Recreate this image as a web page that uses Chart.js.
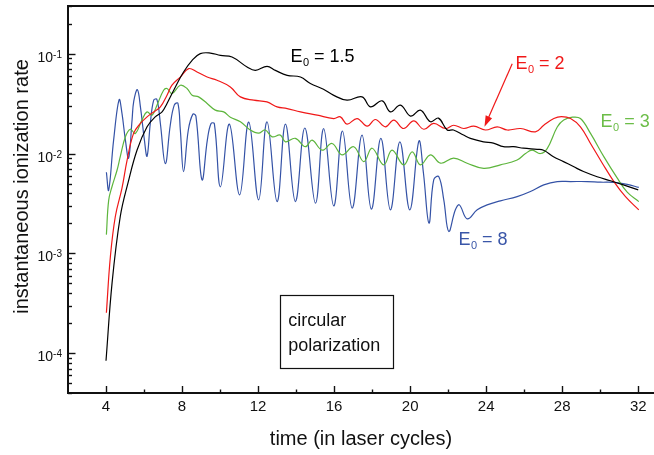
<!DOCTYPE html>
<html>
<head>
<meta charset="utf-8">
<script src="https://cdn.jsdelivr.net/npm/chart.js@4"></script>
<style>
html,body{margin:0;padding:0;background:#fff;}
#wrap{width:654px;height:455px;position:relative;}
</style>
</head>
<body>
<div id="wrap"><canvas id="chartRate"></canvas></div>
<script>
// time in laser cycles / instantaneous ionization rate

const timeE15 = [4.00,4.32,4.75,5.17,5.63,6.16,6.59,6.95,7.21,7.65,8.08,8.53,8.96,9.49,10.02,10.63,11.42,11.86,12.47,12.91,13.53,14.23,14.75,15.44,15.96,16.68,17.47,17.91,18.53,18.96,19.49,20.02,20.54,21.07,21.49,21.95,22.28,22.81,23.17,23.86,24.38,24.91,25.44,25.96,26.68,27.02,27.54,28.07,28.59,29.12,29.84,30.54,31.22,32.0];
const rateE15 = [8.4e-5,5.1e-4,2.34e-3,5.2e-3,0.0108,0.0185,0.0233,0.0261,0.0317,0.0464,0.0655,0.0857,0.100,0.1014,0.096,0.0925,0.0735,0.068,0.0747,0.068,0.0607,0.0583,0.0502,0.044,0.0384,0.0342,0.0369,0.0293,0.0337,0.0261,0.0305,0.0237,0.0272,0.0208,0.0226,0.0172,0.0172,0.0153,0.0142,0.0131,0.0127,0.0117,0.0117,0.0113,0.0110,0.0108,0.0093,0.0083,0.0074,0.0066,0.00586,0.00534,0.00485,0.00432];

const timeE2 = [4.02,4.23,4.49,4.84,5.11,5.45,5.81,6.16,6.51,6.86,7.21,7.47,7.91,8.35,8.79,9.32,9.84,10.54,11.07,11.77,12.47,13.0,13.53,14.23,15.11,15.98,16.33,16.68,17.21,17.74,18.17,18.7,19.14,19.66,20.19,20.72,21.24,21.86,22.29,22.82,23.35,23.96,24.58,25.11,25.81,26.59,27.03,27.56,27.96,28.44,28.96,29.49,30.11,30.72,31.33,32.03];
const rateE2 = [2.54e-4,9.3e-4,2.34e-3,4.5e-3,8.6e-3,0.0159,0.020,0.0233,0.0261,0.0293,0.0384,0.0483,0.0583,0.0708,0.0655,0.0583,0.0542,0.0464,0.0369,0.0342,0.0329,0.0293,0.0282,0.0261,0.0242,0.0224,0.0233,0.0197,0.0224,0.0188,0.0219,0.0185,0.0216,0.0178,0.0212,0.0175,0.020,0.0178,0.0192,0.0178,0.0188,0.0172,0.0185,0.0172,0.0178,0.0165,0.0192,0.0224,0.0234,0.0224,0.0185,0.0126,0.0080,0.00524,0.0037,0.00273];

const timeE3 = [4.02,4.14,4.32,4.58,4.75,5.02,5.28,5.54,5.89,6.16,6.42,6.68,7.03,7.21,7.47,7.91,8.26,8.53,8.87,9.32,9.75,10.19,10.54,11.07,11.59,12.02,12.38,12.74,13.17,13.44,13.96,14.49,14.84,15.37,15.89,16.42,17.03,17.56,18.0,18.61,19.05,19.66,20.11,20.54,21.07,21.6,22.29,23.0,23.87,24.75,25.63,26.07,26.42,26.86,27.21,27.74,28.08,28.54,28.96,29.49,30.19,30.89,31.42,32.03];
const rateE3 = [1.54e-3,3.4e-3,4.7e-3,6.8e-3,9.3e-3,0.0147,0.0175,0.0159,0.0216,0.0261,0.0242,0.0305,0.043,0.0448,0.0399,0.0483,0.0448,0.0384,0.0369,0.0317,0.0272,0.0261,0.0231,0.0208,0.0172,0.016,0.0172,0.0147,0.0153,0.0131,0.0142,0.0117,0.0136,0.0108,0.0126,0.0097,0.0117,0.0083,0.0113,0.0077,0.0108,0.0077,0.0104,0.0077,0.0097,0.0080,0.0090,0.0080,0.0071,0.0077,0.0086,0.0100,0.0108,0.0100,0.0112,0.0184,0.0216,0.0231,0.0224,0.0159,0.0093,0.0057,0.0041,0.0033];

const timeE8 = [4.02,4.14,4.40,4.69,4.84,5.02,5.19,5.37,5.46,5.65,5.81,6.02,6.16,6.33,6.51,6.68,6.86,7.12,7.38,7.59,7.78,7.91,8.08,8.33,8.57,8.73,9.05,9.33,9.52,9.70,10.02,10.49,11.03,11.51,12.03,12.47,13.0,13.44,13.96,14.46,15.02,15.45,15.98,16.44,16.95,17.47,17.96,18.46,18.96,19.46,19.98,20.46,20.70,20.99,21.24,21.51,21.77,22.03,22.38,22.59,23.0,23.53,24.05,24.75,25.63,26.33,27.03,27.74,28.44,29.32,30.02,30.72,31.42,32.03];
const rateE8 = [6.5e-3,4.3e-3,0.0136,0.0346,0.0252,0.0136,0.0090,0.0216,0.0334,0.0436,0.0293,0.0136,0.0094,0.020,0.0342,0.0347,0.020,0.0079,0.0192,0.0305,0.0319,0.0172,0.0066,0.0172,0.0248,0.0237,0.00545,0.0136,0.0199,0.0199,0.00464,0.0197,0.00386,0.0206,0.00344,0.0208,0.0033,0.0197,0.0033,0.0180,0.00318,0.0178,0.00299,0.0168,0.00284,0.0153,0.00277,0.0142,0.00273,0.0131,0.00273,0.0133,0.00638,0.00201,0.00545,0.00586,0.00344,0.00166,0.00273,0.00306,0.00222,0.00273,0.00306,0.00336,0.0037,0.00416,0.00485,0.00524,0.00524,0.00524,0.00516,0.00514,0.00491,0.00458];

const xTicks = [4,6,8,10,12,14,16,18,20,22,24,26,28,30,32];
const yDecades = [-5,-4,-3,-2,-1];

// labels on the plot: [text value, x, y, colour]
const curveLabels = [
  ["1.5", 13.70, 0.0819, "#000000"],
  ["2",   25.54, 0.0697, "#f01818"],
  ["3",   30.02, 0.0184, "#6cbd48"],
  ["8",   22.54, 0.00122, "#3a56a8"]
];

const FONT = '"Liberation Sans", Arial, sans-serif';
const INK = "#111";

function series(label, xs, ys, color){
  return {
    label: label,
    data: xs.map((t,i)=>({x:t, y:ys[i]})),
    borderColor: color,
    borderWidth: 1.2,
    pointRadius: 0,
    fill: false,
    tension: 0.4
  };
}

let yTickValues = [];
yDecades.forEach(e=>{
  for(let m=1;m<10;m++){
    let v = m*Math.pow(10,e);
    if(v>=4e-5*0.999 && v<=0.3*1.001) yTickValues.push(v);
  }
});

/* axes frame, inward ticks, y labels */

const framePlugin = {
  id: "frame",
  afterDraw(chart){
    const {ctx, chartArea:a, scales:{x, y}} = chart;
    ctx.save();
    ctx.strokeStyle = INK;
    ctx.lineWidth = 2;
    ctx.beginPath();
    ctx.moveTo(a.left-1, a.top);
    ctx.lineTo(a.right, a.top);
    ctx.stroke();

    ctx.lineWidth = 1.4;
    x.ticks.forEach(t=>{
      let px = Math.round(x.getPixelForValue(t.value))+0.5;
      let len = t.value%4===0 ? 7 : 3.5;
      ctx.beginPath();
      ctx.moveTo(px, a.bottom);
      ctx.lineTo(px, a.bottom-len);
      ctx.stroke();
    });
    y.ticks.forEach(t=>{
      let py = Math.round(y.getPixelForValue(t.value))+0.5;
      let e = Math.log10(t.value);
      let major = Math.abs(e-Math.round(e))<1e-6;
      let len = major ? 7.5 : 4;
      ctx.beginPath();
      ctx.moveTo(a.left, py);
      ctx.lineTo(a.left+len, py);
      ctx.stroke();
      if(major){
        let sup = String(Math.round(e));
        ctx.fillStyle = INK;
        ctx.textBaseline = "alphabetic";
        ctx.textAlign = "left";
        ctx.font = "10px "+FONT;
        let sw = ctx.measureText(sup).width;
        ctx.font = "14px "+FONT;
        let bw = ctx.measureText("10").width;
        let right = a.left-6;
        ctx.fillText("10", right-sw-bw, py+7);
        ctx.font = "10px "+FONT;
        ctx.fillText(sup, right-sw, py+3);
      }
    });

    // y axis title
    ctx.save();
    ctx.translate(27.5, (a.top+a.bottom)/2-13);
    ctx.rotate(-Math.PI/2);
    ctx.font = "20px "+FONT;
    ctx.fillStyle = INK;
    ctx.textAlign = "center";
    ctx.textBaseline = "alphabetic";
    ctx.fillText("instantaneous ionization rate", 0, 0);
    ctx.restore();
    ctx.restore();
  }
};

/* curve labels, arrow and the boxed note */

const notesPlugin = {
  id: "notes",
  afterDatasetsDraw(chart){
    const {ctx, scales:{x, y}} = chart;
    ctx.save();
    ctx.textBaseline = "alphabetic";
    ctx.textAlign = "left";
    curveLabels.forEach(([val, tx, ty, color])=>{
      let px = x.getPixelForValue(tx);
      let py = y.getPixelForValue(ty);
      ctx.fillStyle = color;
      ctx.font = "18px "+FONT;
      ctx.fillText("E", px, py);
      let w = ctx.measureText("E").width;
      ctx.font = "11px "+FONT;
      ctx.fillText("0", px+w+0.5, py+4);
      let w0 = ctx.measureText("0").width;
      ctx.font = "18px "+FONT;
      ctx.fillText(" = "+val, px+w+0.5+w0, py);
    });

    // red arrow
    let x1 = x.getPixelForValue(25.37), y1 = y.getPixelForValue(0.0794);
    let x2 = x.getPixelForValue(23.91), y2 = y.getPixelForValue(0.0185);
    let ang = Math.atan2(y2-y1, x2-x1);
    ctx.strokeStyle = "#f01818";
    ctx.fillStyle = "#f01818";
    ctx.lineWidth = 1.2;
    ctx.beginPath();
    ctx.moveTo(x1, y1);
    ctx.lineTo(x2-8*Math.cos(ang), y2-8*Math.sin(ang));
    ctx.stroke();
    ctx.beginPath();
    ctx.moveTo(x2, y2);
    ctx.lineTo(x2-11*Math.cos(ang)+3.5*Math.sin(ang), y2-11*Math.sin(ang)-3.5*Math.cos(ang));
    ctx.lineTo(x2-11*Math.cos(ang)-3.5*Math.sin(ang), y2-11*Math.sin(ang)+3.5*Math.cos(ang));
    ctx.closePath();
    ctx.fill();

    // boxed note
    let bx1 = x.getPixelForValue(13.14), bx2 = x.getPixelForValue(19.09);
    let by1 = y.getPixelForValue(3.81e-4), by2 = y.getPixelForValue(7.0e-5);
    ctx.strokeStyle = INK;
    ctx.lineWidth = 1.2;
    ctx.strokeRect(Math.round(bx1)+0.5, Math.round(by1)+0.5, Math.round(bx2-bx1), Math.round(by2-by1));
    ctx.fillStyle = INK;
    ctx.font = "18px "+FONT;
    ctx.fillText("circular", x.getPixelForValue(13.59), y.getPixelForValue(1.87e-4));
    ctx.fillText("polarization", x.getPixelForValue(13.59), y.getPixelForValue(1.05e-4));
    ctx.restore();
  }
};

new Chart(document.getElementById("chartRate"),{
  type:"line",
  data:{
    datasets:[
      series("E0 = 1.5", timeE15, rateE15, "#000000"),
      series("E0 = 2", timeE2, rateE2, "#f01818"),
      series("E0 = 3", timeE3, rateE3, "#5db53c"),
      series("E0 = 8", timeE8, rateE8, "#3452a6")
    ]
  },
  options:{
    responsive:true,
    maintainAspectRatio:false,
    animation:false,
    layout:{padding:{top:6,left:0,right:0,bottom:0}},
    plugins:{legend:{display:false}, tooltip:{enabled:false}},
    scales:{
      x:{
        type:"linear",
        min:2,
        max:32.83,
        bounds:"data",
        afterBuildTicks:s=>{ s.ticks = xTicks.map(v=>({value:v})); },
        afterFit:s=>{ s.height = 62; },
        grid:{display:false, drawTicks:false},
        border:{display:true, color:INK, width:2},
        ticks:{
          autoSkip:false, maxRotation:0, padding:5, color:INK,
          font:{family:FONT, size:15},
          callback:v=> v%4===0 ? String(v) : ""
        },
        title:{display:true, text:"time (in laser cycles)", color:INK,
          font:{family:FONT, size:20}, padding:{top:0, bottom:4}}
      },
      y:{
        type:"logarithmic",
        min:4e-5,
        max:0.3,
        bounds:"data",
        afterBuildTicks:s=>{ s.ticks = yTickValues.map(v=>({value:v})); },
        afterFit:s=>{ s.width = 68; },
        grid:{display:false, drawTicks:false},
        border:{display:true, color:INK, width:2},
        ticks:{display:false}
      }
    }
  },
  plugins:[framePlugin, notesPlugin]
});
</script>
</body>
</html>
